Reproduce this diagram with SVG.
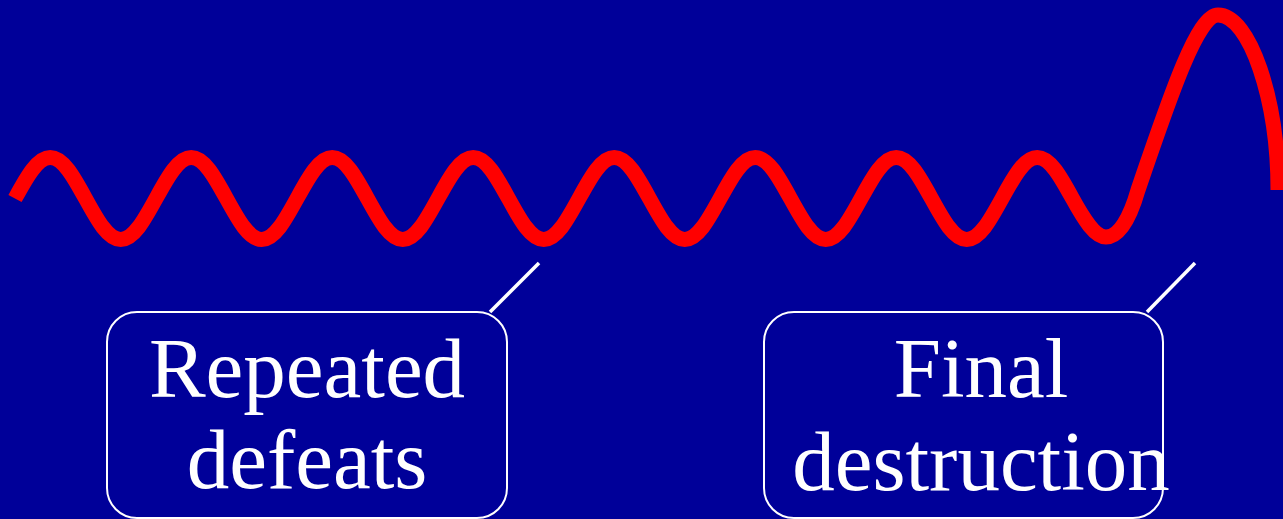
<svg xmlns="http://www.w3.org/2000/svg" width="1283" height="519" viewBox="0 0 1283 519">
<style>
.wave{fill:none;stroke:#FF0000;stroke-width:15;stroke-linecap:butt;stroke-linejoin:round}
.box{fill:none;stroke:#FFFFFF;stroke-width:2}
.lbl{font-family:"Liberation Serif","Times New Roman",serif;font-size:85px;fill:#FFFFFF;text-anchor:middle}
.lead{stroke:#FFFFFF;stroke-width:3.5;fill:none}
</style>
<rect x="0" y="0" width="1283" height="519" fill="#000099"/>
<g id="wave">
<path class="wave" d="M15,198.5 C26.8,177 37.45,157.5 50.25,157.5 S73.7,177 85.5,198.5 S107.95,239.5 120.75,239.5 S144.2,220 156,198.5 S178.45,157.5 191.25,157.5 S214.7,177 226.5,198.5 S248.95,239.5 261.75,239.5 S285.2,220 297,198.5 S319.45,157.5 332.25,157.5 S355.7,177 367.5,198.5 S389.95,239.5 402.75,239.5 S426.2,220 438,198.5 S460.45,157.5 473.25,157.5 S496.7,177 508.5,198.5 S530.95,239.5 543.75,239.5 S567.2,220 579,198.5 S601.45,157.5 614.25,157.5 S637.7,177 649.5,198.5 S671.95,239.5 684.75,239.5 S708.2,220 720,198.5 S742.45,157.5 755.25,157.5 S778.7,177 790.5,198.5 S812.95,239.5 825.75,239.5 S849.2,220 861,198.5 S883.45,157.5 896.25,157.5 S919.7,177 931.5,198.5 S953.95,239.5 966.75,239.5 S990.2,220 1002,198.5 S1024.45,157.5 1037.25,157.5 S1060.7,177 1072.5,198.5 S1094.95,237 1106,237 C1119,237 1130,218 1138,190 C1172,90 1198,15 1218,15 C1250,15 1278,100 1278,190"/>
</g>
<g id="connectors">
<line class="lead" x1="490" y1="312" x2="539" y2="263"/>
<line class="lead" x1="1147" y1="312" x2="1195" y2="263"/>
</g>
<g id="node-repeated">
<rect class="box" x="107" y="312" width="400" height="206" rx="30" ry="30"/>
<text class="lbl" x="307" y="397">Repeated</text>
<text class="lbl" x="307" y="488">defeats</text>
</g>
<g id="node-final">
<rect class="box" x="764" y="312" width="399" height="206" rx="30" ry="30"/>
<text class="lbl" x="981" y="397">Final</text>
<text class="lbl" x="981" y="490">destruction</text>
</g>
</svg>
